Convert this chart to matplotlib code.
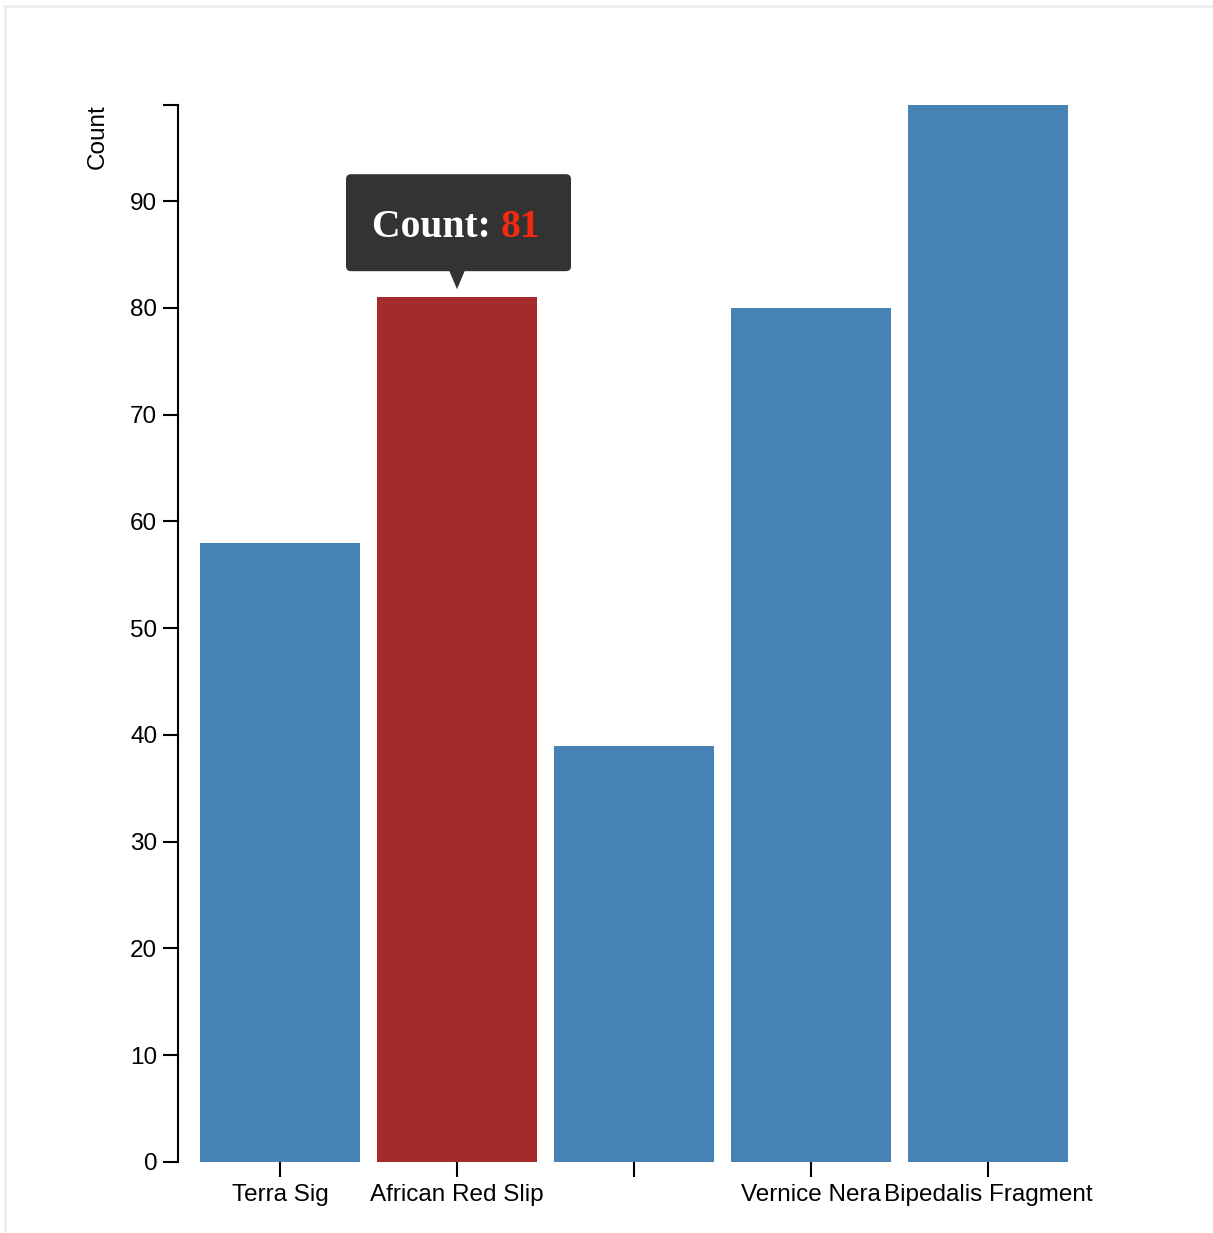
import matplotlib
matplotlib.use("Agg")
import matplotlib.pyplot as plt
from matplotlib.patches import FancyBboxPatch, Polygon
from matplotlib.lines import Line2D
from matplotlib.transforms import Affine2D

categories = ["Terra Sig", "African Red Slip", "", "Vernice Nera", "Bipedalis Fragment"]
counts = [58, 81, 39, 80, 99]
highlight_index = 1
y_ticks = [0, 10, 20, 30, 40, 50, 60, 70, 80, 90]

BLUE = "#4682b4"
RED = "#a52a2a"

W, H = 1213, 1233
fig = plt.figure(figsize=(W / 100, H / 100), dpi=100)
plt.rcParams['font.family'] = ['Liberation Sans', 'DejaVu Sans']

# axes placement in pixels
left, right, bottom, top = 178, 1090, H - 1162, H - 105
ax = fig.add_axes([left / W, bottom / H, (right - left) / W, (top - bottom) / H])

x = list(range(len(categories)))
colors = [RED if i == highlight_index else BLUE for i in x]
ax.bar(x, counts, width=160 / 177, color=colors, edgecolor="none")

ax.set_xlim(-102 / 177, -102 / 177 + (right - left) / 177)
ymax = max(counts)
ax.set_ylim(0, ymax)

ax.set_yticks(y_ticks + [ymax])
ax.set_yticklabels([str(v) for v in y_ticks] + [""])
ax.set_xticks(x)
ax.set_xticklabels(categories)

for s in ["top", "right", "bottom"]:
    ax.spines[s].set_visible(False)
ax.spines["left"].set_linewidth(1.5)
ax.spines["left"].set_color("black")

ax.tick_params(axis="both", length=10.5, width=1.5, colors="black", labelsize=17.5)
ax.tick_params(axis="y", pad=4.5)
ax.tick_params(axis="x", pad=5.5)

fig.text(98 / W, 1 - 137 / H, "Count", rotation=90, ha="center", va="center", fontsize=17.5)

# tooltip above highlighted bar
fig.canvas.draw()
ax_pt = ax.transData.transform((highlight_index, counts[highlight_index]))
tr = Affine2D().translate(ax_pt[0], ax_pt[1])
box = FancyBboxPatch((-111 + 4, 26 + 4), 225 - 8, 97 - 8,
                     boxstyle="round,pad=4,rounding_size=5",
                     facecolor="#333333", edgecolor="none", transform=tr, zorder=5)
fig.patches.append(box)
tri = Polygon([(-8, 27), (8, 27), (0, 8)], closed=True, facecolor="#333333",
              edgecolor="none", transform=tr, zorder=5)
fig.patches.append(tri)
fig.texts.append(matplotlib.text.Text(44, 60, "Count: ", color="white", fontsize=28.5,
                                      fontweight="bold", family=["Liberation Serif", "DejaVu Serif"],
                                      ha="right", va="baseline", transform=tr, zorder=6, figure=fig))
fig.texts.append(matplotlib.text.Text(44, 60, str(counts[highlight_index]), color="#f42a10", fontsize=28.5,
                                      fontweight="bold", family=["Liberation Serif", "DejaVu Serif"],
                                      ha="left", va="baseline", transform=tr, zorder=6, figure=fig))

# page frame
fig.add_artist(Line2D([4 / W, 1], [1 - 6 / H, 1 - 6 / H], color="#eeeeee", lw=2, transform=fig.transFigure))
fig.add_artist(Line2D([5 / W, 5 / W], [0, 1 - 6 / H], color="#eeeeee", lw=2, transform=fig.transFigure))

fig.savefig("out.png", dpi=100)
